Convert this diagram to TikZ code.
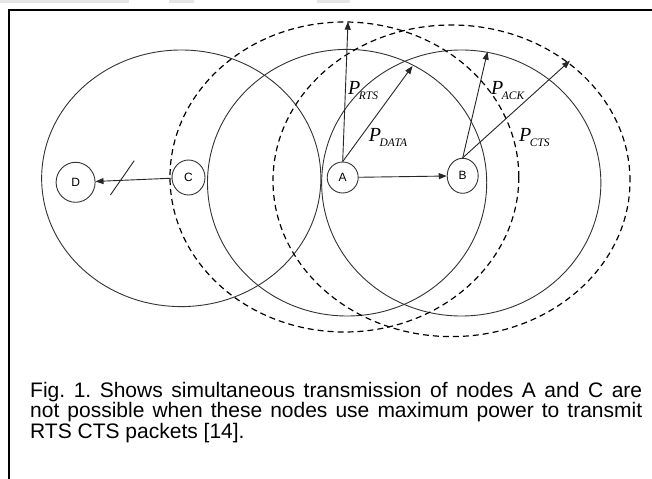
\documentclass[tikz,border=0pt]{standalone}
\usepackage{fontspec}
\setmainfont{Liberation Sans}
\newfontfamily\lserif{Liberation Serif}
\usetikzlibrary{arrows.meta,shapes.geometric}
\newcommand{\PLab}[1]{{\fontsize{20bp}{20bp}\selectfont\lserif\itshape P}\kern-1.5bp\raisebox{-4.5bp}{\fontsize{11.5bp}{11.5bp}\selectfont\lserif\itshape #1}}
\newcommand{\capf}{\fontsize{21bp}{21bp}\selectfont\frenchspacing}
\frenchspacing
\begin{document}
\begin{tikzpicture}[x=1bp,y=-1bp,
  solidcirc/.style={draw=black!80, line width=0.9bp},
  dashcirc/.style={draw=black, line width=1.2bp, dash pattern=on 6bp off 4bp},
  stn/.style={ellipse, draw=black!80, fill=white, line width=0.9bp, inner sep=0pt, font=\fontsize{12bp}{12bp}\selectfont},
  arr/.style={draw=black!85, line width=0.9bp, -{Triangle[length=8bp,width=6bp]}},
  plabel/.style={anchor=base west, inner sep=0pt},
]
\useasboundingbox (0,0) rectangle (652,479);
\fill[white] (0,0) rectangle (652,479);
% light grey strips at top
\fill[black!10] (0,0) rectangle (129,3.5);
\fill[black!10] (169,0) rectangle (194,3.5);
\fill[black!10] (317,0) rectangle (350,3.5);
% frame
\draw[line width=2bp] (9,490) -- (9,10) -- (665,10);
% range circles
\draw[solidcirc] (181.25,178.3) ellipse [x radius=139.6bp, y radius=128.3bp];
\draw[solidcirc] (347.1,182.7) ellipse [x radius=139.6bp, y radius=133.3bp];
\draw[solidcirc] (461.25,183) ellipse [x radius=139.6bp, y radius=133bp];
\draw[dashcirc] (344.4,177) ellipse [x radius=174.4bp, y radius=155bp];
\draw[dashcirc] (451.5,180.8) ellipse [x radius=178.5bp, y radius=155.8bp];
% stations
\node[stn, minimum width=39bp, minimum height=40bp] (D) at (75.6,182.3) {D};
\node[stn, minimum width=33bp, minimum height=35bp] (C) at (188.5,177.5) {C};
\node[stn, minimum width=31bp, minimum height=31bp] (A) at (342.7,177.5) {A};
\node[stn, minimum width=31bp, minimum height=35bp] (B) at (462.7,175.8) {B};
% arrow tips
\coordinate (rtsT) at (348,21.7);
\coordinate (dataT) at (412.5,66);
\coordinate (ackT) at (487.5,51.7);
\coordinate (ctsT) at (570,60.7);
\draw[arr] (A.north) -- (rtsT);
\draw[arr] (A.north) -- (dataT);
\draw[arr] (A) -- (B);
\draw[arr] (B.north) -- (ackT);
\draw[arr] (B.north) -- (ctsT);
\draw[arr] (C) -- (D);
\coordinate (s1) at (110.4,195);
\coordinate (s2) at (134.2,160.7);
\draw[draw=black!85, line width=0.9bp] (s1) -- (s2);
% labels
\node[plabel] (lrts) at (348,95) {\PLab{RTS}};
\node[plabel] (ldata) at (368.75,141.7) {\PLab{DATA}};
\node[plabel] (lack) at (491,95) {\PLab{ACK}};
\node[plabel] (lcts) at (519,141.7) {\PLab{CTS}};
% caption
\node[plabel, font=\capf] (cap1) at (30,397) {\makebox[612bp][s]{Fig. 1. Shows simultaneous transmission of nodes A and C are}};
\node[plabel, font=\capf] (cap2) at (30,417.5) {\makebox[612bp][s]{not possible when these nodes use maximum power to transmit}};
\node[plabel, font=\capf] (cap3) at (30,438) {RTS CTS packets [14].};
\end{tikzpicture}
\end{document}
